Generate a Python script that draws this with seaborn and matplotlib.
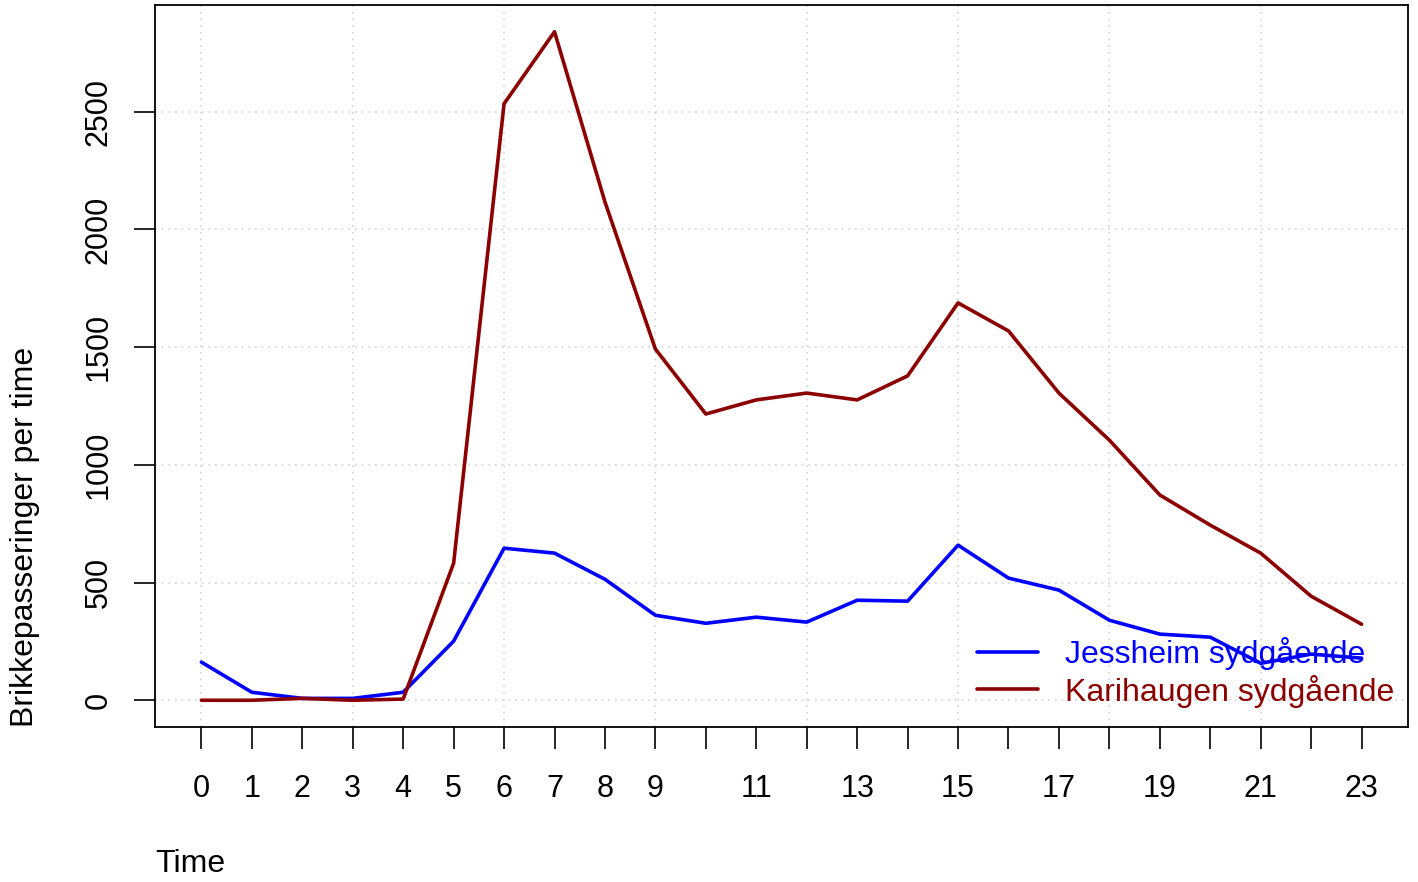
import numpy as np
import pandas as pd
import matplotlib
matplotlib.use("Agg")
import matplotlib.pyplot as plt
import seaborn as sns
from matplotlib.lines import Line2D

hours = list(range(24))
jessheim = [162, 34, 8, 8, 34, 251, 646, 625, 514, 361, 327, 353, 332, 425,
            421, 659, 519, 468, 340, 281, 268, 157, 196, 179]
karihaugen = [0, 0, 8, 0, 5, 582, 2534, 2840, 2117, 1492, 1216, 1276, 1305, 1276,
              1378, 1688, 1569, 1305, 1105, 872, 744, 625, 442, 323]
series_names = ["Jessheim sydgående", "Karihaugen sydgående"]
series_colors = ["#0000FF", "#8B0000"]
x_tick_labels = ["0", "1", "2", "3", "4", "5", "6", "7", "8", "9", "", "11", "",
                 "13", "", "15", "", "17", "", "19", "", "21", "", "23"]
y_ticks = [0, 500, 1000, 1500, 2000, 2500]

df = pd.DataFrame({
    "Time": hours * 2,
    "value": jessheim + karihaugen,
    "series": [series_names[0]] * 24 + [series_names[1]] * 24,
})

sns.set_theme(style="white")
plt.rcParams["font.family"] = ["Liberation Sans", "DejaVu Sans"]

fig = plt.figure(figsize=(14.18, 8.82), dpi=100)
ax = fig.add_axes([155 / 1418, 1 - 727 / 882, (1408 - 155) / 1418, (727 - 5) / 882])

# grid
for gx in range(0, 24, 3):
    ax.axvline(gx, color="#D3D3D3", linestyle=(0, (1, 3)), linewidth=1.2, zorder=0)
for gy in y_ticks:
    ax.axhline(gy, color="#D3D3D3", linestyle=(0, (1, 3)), linewidth=1.2, zorder=0)

sns.lineplot(data=df, x="Time", y="value", hue="series",
             palette=dict(zip(series_names, series_colors)),
             linewidth=2.6, ax=ax, legend=False)

ymax = max(max(jessheim), max(karihaugen))
ax.set_xlim(-0.04 * 23, 23 + 0.04 * 23)
ax.set_ylim(-0.04 * ymax, ymax * 1.04)

ax.set_xticks(hours)
ax.set_xticklabels(x_tick_labels)
ax.set_yticks(y_ticks)
ax.set_yticklabels([str(v) for v in y_ticks], rotation=90, va="center")
ax.tick_params(axis="x", direction="out", length=16, width=1.2, pad=18,
               labelsize=22, colors="black", bottom=True)
ax.tick_params(axis="y", direction="out", length=15, width=1.2, pad=15,
               labelsize=22, colors="black", left=True)

for s in ax.spines.values():
    s.set_color("black")
    s.set_linewidth(1.3)
    s.set_visible(True)

ax.set_xlabel("Time", fontsize=23, loc="left", labelpad=32, color="black")
ax.set_ylabel("Brikkepasseringer per time", fontsize=23, loc="bottom",
              labelpad=31, color="black")

handles = [Line2D([0], [0], color=c, linewidth=2.6) for c in series_colors]
leg = ax.legend(handles, series_names, loc="lower right", frameon=False,
                fontsize=23, handlelength=1.9, handletextpad=0.85,
                labelspacing=0.15, borderpad=0, borderaxespad=0,
                bbox_to_anchor=((1394 - 155) / 1253, 0.027))
for t, c in zip(leg.get_texts(), series_colors):
    t.set_color(c)

fig.savefig("out.png", dpi=100)
